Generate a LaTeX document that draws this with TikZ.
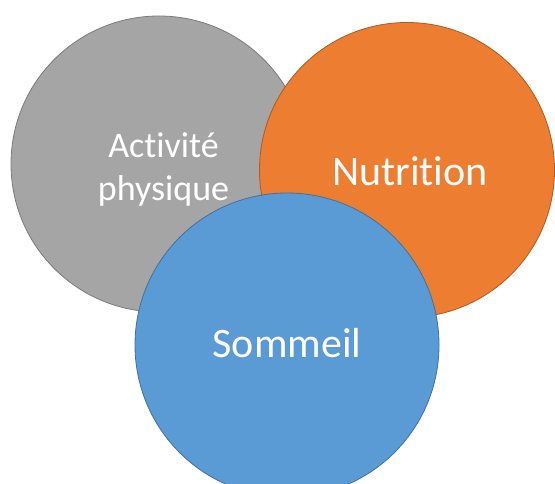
\documentclass[tikz,border=0pt]{standalone}
\usepackage{fontspec}
\setmainfont[Ligatures=NoCommon]{Carlito}
\definecolor{cgray}{HTML}{A5A5A5}
\definecolor{cgrayb}{HTML}{7C7C7C}
\definecolor{corange}{HTML}{ED7D31}
\definecolor{corangeb}{HTML}{AE5A21}
\definecolor{cblue}{HTML}{5B9BD5}
\definecolor{cblueb}{HTML}{41719C}
\begin{document}
\begin{tikzpicture}[x=1bp,y=-1bp,
  bubble/.style={circle,inner sep=0pt,line width=0.8bp},
  lbl/.style={text=white,inner sep=0pt,align=center}]
\useasboundingbox (0,0) rectangle (555,484);
\clip (0,0) rectangle (555,484);
\node[bubble,fill=cgray,draw=cgrayb,minimum size=296bp] (act) at (159,164) {};
\node[bubble,fill=corange,draw=corangeb,minimum size=295bp] (nut) at (407,170) {};
\node[bubble,fill=cblue,draw=cblueb,minimum size=304bp] (som) at (287,345) {};
\node[lbl,font=\fontsize{36bp}{43bp}\selectfont] (tact) at (163.5,170) {Activité\\physique};
\node[lbl,font=\fontsize{42bp}{50bp}\selectfont,anchor=base] (tnut) at (410,186) {Nutrition};
\node[lbl,font=\fontsize{42bp}{50bp}\selectfont,anchor=base] (tsom) at (287,357) {Sommeil};
\end{tikzpicture}
\end{document}
